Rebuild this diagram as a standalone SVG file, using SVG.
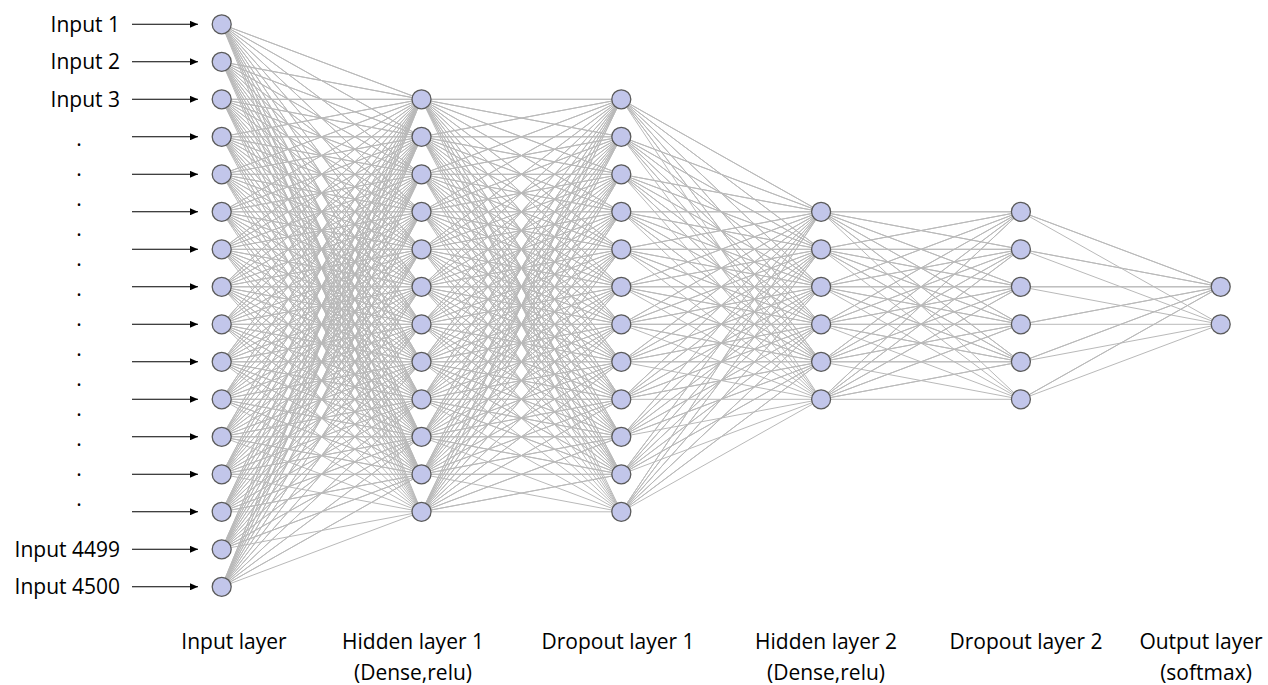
<svg xmlns="http://www.w3.org/2000/svg" width="1268" height="685" viewBox="0 0 1268 685">
<style>
.n{fill:#c2c6ea;stroke:#5a5a5a;stroke-width:1.3}
.w{fill:none;stroke:#b9b9b9;stroke-width:1;stroke-linejoin:round;vector-effect:non-scaling-stroke}
.a{stroke:#000;stroke-width:1.1;marker-end:url(#ah)}
.t{font-family:"Open Sans","Liberation Sans",sans-serif;font-size:21px;fill:#000}
</style>
<defs>
<marker id="ah" viewBox="0 0 8 7" refX="8" refY="3.5" markerWidth="8" markerHeight="7" markerUnits="userSpaceOnUse" orient="auto">
<path d="M0 0L8 3.5L0 7z" fill="#000"/>
</marker>
</defs>
<g id="connectors">
<g transform="translate(221.7 24.3) scale(199.8 37.5)">
<path class="w" d="M0 0L1 2 0 0 1 3 0 0 1 4 0 0 1 5 0 0 1 6 0 0 1 7 0 0 1 8 0 0 1 9 0 0 1 10 0 0 1 11 0 0 1 12 0 0 1 13
M0 1L1 2 0 1 1 3 0 1 1 4 0 1 1 5 0 1 1 6 0 1 1 7 0 1 1 8 0 1 1 9 0 1 1 10 0 1 1 11 0 1 1 12 0 1 1 13
M0 2L1 2 0 2 1 3 0 2 1 4 0 2 1 5 0 2 1 6 0 2 1 7 0 2 1 8 0 2 1 9 0 2 1 10 0 2 1 11 0 2 1 12 0 2 1 13
M0 3L1 2 0 3 1 3 0 3 1 4 0 3 1 5 0 3 1 6 0 3 1 7 0 3 1 8 0 3 1 9 0 3 1 10 0 3 1 11 0 3 1 12 0 3 1 13
M0 4L1 2 0 4 1 3 0 4 1 4 0 4 1 5 0 4 1 6 0 4 1 7 0 4 1 8 0 4 1 9 0 4 1 10 0 4 1 11 0 4 1 12 0 4 1 13
M0 5L1 2 0 5 1 3 0 5 1 4 0 5 1 5 0 5 1 6 0 5 1 7 0 5 1 8 0 5 1 9 0 5 1 10 0 5 1 11 0 5 1 12 0 5 1 13
M0 6L1 2 0 6 1 3 0 6 1 4 0 6 1 5 0 6 1 6 0 6 1 7 0 6 1 8 0 6 1 9 0 6 1 10 0 6 1 11 0 6 1 12 0 6 1 13
M0 7L1 2 0 7 1 3 0 7 1 4 0 7 1 5 0 7 1 6 0 7 1 7 0 7 1 8 0 7 1 9 0 7 1 10 0 7 1 11 0 7 1 12 0 7 1 13
M0 8L1 2 0 8 1 3 0 8 1 4 0 8 1 5 0 8 1 6 0 8 1 7 0 8 1 8 0 8 1 9 0 8 1 10 0 8 1 11 0 8 1 12 0 8 1 13
M0 9L1 2 0 9 1 3 0 9 1 4 0 9 1 5 0 9 1 6 0 9 1 7 0 9 1 8 0 9 1 9 0 9 1 10 0 9 1 11 0 9 1 12 0 9 1 13
M0 10L1 2 0 10 1 3 0 10 1 4 0 10 1 5 0 10 1 6 0 10 1 7 0 10 1 8 0 10 1 9 0 10 1 10 0 10 1 11 0 10 1 12 0 10 1 13
M0 11L1 2 0 11 1 3 0 11 1 4 0 11 1 5 0 11 1 6 0 11 1 7 0 11 1 8 0 11 1 9 0 11 1 10 0 11 1 11 0 11 1 12 0 11 1 13
M0 12L1 2 0 12 1 3 0 12 1 4 0 12 1 5 0 12 1 6 0 12 1 7 0 12 1 8 0 12 1 9 0 12 1 10 0 12 1 11 0 12 1 12 0 12 1 13
M0 13L1 2 0 13 1 3 0 13 1 4 0 13 1 5 0 13 1 6 0 13 1 7 0 13 1 8 0 13 1 9 0 13 1 10 0 13 1 11 0 13 1 12 0 13 1 13
M0 14L1 2 0 14 1 3 0 14 1 4 0 14 1 5 0 14 1 6 0 14 1 7 0 14 1 8 0 14 1 9 0 14 1 10 0 14 1 11 0 14 1 12 0 14 1 13
M0 15L1 2 0 15 1 3 0 15 1 4 0 15 1 5 0 15 1 6 0 15 1 7 0 15 1 8 0 15 1 9 0 15 1 10 0 15 1 11 0 15 1 12 0 15 1 13"/>
<path class="w" d="M1 2L2 2 1 2 2 3 1 2 2 4 1 2 2 5 1 2 2 6 1 2 2 7 1 2 2 8 1 2 2 9 1 2 2 10 1 2 2 11 1 2 2 12 1 2 2 13
M1 3L2 2 1 3 2 3 1 3 2 4 1 3 2 5 1 3 2 6 1 3 2 7 1 3 2 8 1 3 2 9 1 3 2 10 1 3 2 11 1 3 2 12 1 3 2 13
M1 4L2 2 1 4 2 3 1 4 2 4 1 4 2 5 1 4 2 6 1 4 2 7 1 4 2 8 1 4 2 9 1 4 2 10 1 4 2 11 1 4 2 12 1 4 2 13
M1 5L2 2 1 5 2 3 1 5 2 4 1 5 2 5 1 5 2 6 1 5 2 7 1 5 2 8 1 5 2 9 1 5 2 10 1 5 2 11 1 5 2 12 1 5 2 13
M1 6L2 2 1 6 2 3 1 6 2 4 1 6 2 5 1 6 2 6 1 6 2 7 1 6 2 8 1 6 2 9 1 6 2 10 1 6 2 11 1 6 2 12 1 6 2 13
M1 7L2 2 1 7 2 3 1 7 2 4 1 7 2 5 1 7 2 6 1 7 2 7 1 7 2 8 1 7 2 9 1 7 2 10 1 7 2 11 1 7 2 12 1 7 2 13
M1 8L2 2 1 8 2 3 1 8 2 4 1 8 2 5 1 8 2 6 1 8 2 7 1 8 2 8 1 8 2 9 1 8 2 10 1 8 2 11 1 8 2 12 1 8 2 13
M1 9L2 2 1 9 2 3 1 9 2 4 1 9 2 5 1 9 2 6 1 9 2 7 1 9 2 8 1 9 2 9 1 9 2 10 1 9 2 11 1 9 2 12 1 9 2 13
M1 10L2 2 1 10 2 3 1 10 2 4 1 10 2 5 1 10 2 6 1 10 2 7 1 10 2 8 1 10 2 9 1 10 2 10 1 10 2 11 1 10 2 12 1 10 2 13
M1 11L2 2 1 11 2 3 1 11 2 4 1 11 2 5 1 11 2 6 1 11 2 7 1 11 2 8 1 11 2 9 1 11 2 10 1 11 2 11 1 11 2 12 1 11 2 13
M1 12L2 2 1 12 2 3 1 12 2 4 1 12 2 5 1 12 2 6 1 12 2 7 1 12 2 8 1 12 2 9 1 12 2 10 1 12 2 11 1 12 2 12 1 12 2 13
M1 13L2 2 1 13 2 3 1 13 2 4 1 13 2 5 1 13 2 6 1 13 2 7 1 13 2 8 1 13 2 9 1 13 2 10 1 13 2 11 1 13 2 12 1 13 2 13"/>
<path class="w" d="M2 2L3 5 2 2 3 6 2 2 3 7 2 2 3 8 2 2 3 9 2 2 3 10
M2 3L3 5 2 3 3 6 2 3 3 7 2 3 3 8 2 3 3 9 2 3 3 10
M2 4L3 5 2 4 3 6 2 4 3 7 2 4 3 8 2 4 3 9 2 4 3 10
M2 5L3 5 2 5 3 6 2 5 3 7 2 5 3 8 2 5 3 9 2 5 3 10
M2 6L3 5 2 6 3 6 2 6 3 7 2 6 3 8 2 6 3 9 2 6 3 10
M2 7L3 5 2 7 3 6 2 7 3 7 2 7 3 8 2 7 3 9 2 7 3 10
M2 8L3 5 2 8 3 6 2 8 3 7 2 8 3 8 2 8 3 9 2 8 3 10
M2 9L3 5 2 9 3 6 2 9 3 7 2 9 3 8 2 9 3 9 2 9 3 10
M2 10L3 5 2 10 3 6 2 10 3 7 2 10 3 8 2 10 3 9 2 10 3 10
M2 11L3 5 2 11 3 6 2 11 3 7 2 11 3 8 2 11 3 9 2 11 3 10
M2 12L3 5 2 12 3 6 2 12 3 7 2 12 3 8 2 12 3 9 2 12 3 10
M2 13L3 5 2 13 3 6 2 13 3 7 2 13 3 8 2 13 3 9 2 13 3 10"/>
<path class="w" d="M3 5L4 5 3 5 4 6 3 5 4 7 3 5 4 8 3 5 4 9 3 5 4 10
M3 6L4 5 3 6 4 6 3 6 4 7 3 6 4 8 3 6 4 9 3 6 4 10
M3 7L4 5 3 7 4 6 3 7 4 7 3 7 4 8 3 7 4 9 3 7 4 10
M3 8L4 5 3 8 4 6 3 8 4 7 3 8 4 8 3 8 4 9 3 8 4 10
M3 9L4 5 3 9 4 6 3 9 4 7 3 9 4 8 3 9 4 9 3 9 4 10
M3 10L4 5 3 10 4 6 3 10 4 7 3 10 4 8 3 10 4 9 3 10 4 10"/>
<path class="w" d="M4 5L5 7 4 5 5 8M4 6L5 7 4 6 5 8M4 7L5 7 4 7 5 8M4 8L5 7 4 8 5 8M4 9L5 7 4 9 5 8M4 10L5 7 4 10 5 8"/>
</g>
<line class="a" x1="132" y1="24.3" x2="198" y2="24.3"/>
<line class="a" x1="132" y1="61.8" x2="198" y2="61.8"/>
<line class="a" x1="132" y1="99.3" x2="198" y2="99.3"/>
<line class="a" x1="132" y1="136.8" x2="198" y2="136.8"/>
<line class="a" x1="132" y1="174.3" x2="198" y2="174.3"/>
<line class="a" x1="132" y1="211.8" x2="198" y2="211.8"/>
<line class="a" x1="132" y1="249.3" x2="198" y2="249.3"/>
<line class="a" x1="132" y1="286.8" x2="198" y2="286.8"/>
<line class="a" x1="132" y1="324.3" x2="198" y2="324.3"/>
<line class="a" x1="132" y1="361.8" x2="198" y2="361.8"/>
<line class="a" x1="132" y1="399.3" x2="198" y2="399.3"/>
<line class="a" x1="132" y1="436.8" x2="198" y2="436.8"/>
<line class="a" x1="132" y1="474.3" x2="198" y2="474.3"/>
<line class="a" x1="132" y1="511.8" x2="198" y2="511.8"/>
<line class="a" x1="132" y1="549.3" x2="198" y2="549.3"/>
<line class="a" x1="132" y1="586.8" x2="198" y2="586.8"/>
</g>
<g id="input-layer">
<g id="in1"><circle class="n" cx="221.7" cy="24.3" r="9.5"/></g>
<g id="in2"><circle class="n" cx="221.7" cy="61.8" r="9.5"/></g>
<g id="in3"><circle class="n" cx="221.7" cy="99.3" r="9.5"/></g>
<g id="in4"><circle class="n" cx="221.7" cy="136.8" r="9.5"/></g>
<g id="in5"><circle class="n" cx="221.7" cy="174.3" r="9.5"/></g>
<g id="in6"><circle class="n" cx="221.7" cy="211.8" r="9.5"/></g>
<g id="in7"><circle class="n" cx="221.7" cy="249.3" r="9.5"/></g>
<g id="in8"><circle class="n" cx="221.7" cy="286.8" r="9.5"/></g>
<g id="in9"><circle class="n" cx="221.7" cy="324.3" r="9.5"/></g>
<g id="in10"><circle class="n" cx="221.7" cy="361.8" r="9.5"/></g>
<g id="in11"><circle class="n" cx="221.7" cy="399.3" r="9.5"/></g>
<g id="in12"><circle class="n" cx="221.7" cy="436.8" r="9.5"/></g>
<g id="in13"><circle class="n" cx="221.7" cy="474.3" r="9.5"/></g>
<g id="in14"><circle class="n" cx="221.7" cy="511.8" r="9.5"/></g>
<g id="in15"><circle class="n" cx="221.7" cy="549.3" r="9.5"/></g>
<g id="in16"><circle class="n" cx="221.7" cy="586.8" r="9.5"/></g>
</g>
<g id="hidden-layer-1">
<g id="h1_1"><circle class="n" cx="421.5" cy="99.3" r="9.5"/></g>
<g id="h1_2"><circle class="n" cx="421.5" cy="136.8" r="9.5"/></g>
<g id="h1_3"><circle class="n" cx="421.5" cy="174.3" r="9.5"/></g>
<g id="h1_4"><circle class="n" cx="421.5" cy="211.8" r="9.5"/></g>
<g id="h1_5"><circle class="n" cx="421.5" cy="249.3" r="9.5"/></g>
<g id="h1_6"><circle class="n" cx="421.5" cy="286.8" r="9.5"/></g>
<g id="h1_7"><circle class="n" cx="421.5" cy="324.3" r="9.5"/></g>
<g id="h1_8"><circle class="n" cx="421.5" cy="361.8" r="9.5"/></g>
<g id="h1_9"><circle class="n" cx="421.5" cy="399.3" r="9.5"/></g>
<g id="h1_10"><circle class="n" cx="421.5" cy="436.8" r="9.5"/></g>
<g id="h1_11"><circle class="n" cx="421.5" cy="474.3" r="9.5"/></g>
<g id="h1_12"><circle class="n" cx="421.5" cy="511.8" r="9.5"/></g>
</g>
<g id="dropout-layer-1">
<g id="d1_1"><circle class="n" cx="621.3" cy="99.3" r="9.5"/></g>
<g id="d1_2"><circle class="n" cx="621.3" cy="136.8" r="9.5"/></g>
<g id="d1_3"><circle class="n" cx="621.3" cy="174.3" r="9.5"/></g>
<g id="d1_4"><circle class="n" cx="621.3" cy="211.8" r="9.5"/></g>
<g id="d1_5"><circle class="n" cx="621.3" cy="249.3" r="9.5"/></g>
<g id="d1_6"><circle class="n" cx="621.3" cy="286.8" r="9.5"/></g>
<g id="d1_7"><circle class="n" cx="621.3" cy="324.3" r="9.5"/></g>
<g id="d1_8"><circle class="n" cx="621.3" cy="361.8" r="9.5"/></g>
<g id="d1_9"><circle class="n" cx="621.3" cy="399.3" r="9.5"/></g>
<g id="d1_10"><circle class="n" cx="621.3" cy="436.8" r="9.5"/></g>
<g id="d1_11"><circle class="n" cx="621.3" cy="474.3" r="9.5"/></g>
<g id="d1_12"><circle class="n" cx="621.3" cy="511.8" r="9.5"/></g>
</g>
<g id="hidden-layer-2">
<g id="h2_1"><circle class="n" cx="821.1" cy="211.8" r="9.5"/></g>
<g id="h2_2"><circle class="n" cx="821.1" cy="249.3" r="9.5"/></g>
<g id="h2_3"><circle class="n" cx="821.1" cy="286.8" r="9.5"/></g>
<g id="h2_4"><circle class="n" cx="821.1" cy="324.3" r="9.5"/></g>
<g id="h2_5"><circle class="n" cx="821.1" cy="361.8" r="9.5"/></g>
<g id="h2_6"><circle class="n" cx="821.1" cy="399.3" r="9.5"/></g>
</g>
<g id="dropout-layer-2">
<g id="d2_1"><circle class="n" cx="1020.9" cy="211.8" r="9.5"/></g>
<g id="d2_2"><circle class="n" cx="1020.9" cy="249.3" r="9.5"/></g>
<g id="d2_3"><circle class="n" cx="1020.9" cy="286.8" r="9.5"/></g>
<g id="d2_4"><circle class="n" cx="1020.9" cy="324.3" r="9.5"/></g>
<g id="d2_5"><circle class="n" cx="1020.9" cy="361.8" r="9.5"/></g>
<g id="d2_6"><circle class="n" cx="1020.9" cy="399.3" r="9.5"/></g>
</g>
<g id="output-layer">
<g id="out1"><circle class="n" cx="1220.7" cy="286.8" r="9.5"/></g>
<g id="out2"><circle class="n" cx="1220.7" cy="324.3" r="9.5"/></g>
</g>
<g id="input-labels" class="t" text-anchor="end">
<text x="120" y="31.8">Input 1</text>
<text x="120" y="69.3">Input 2</text>
<text x="120" y="106.8">Input 3</text>
<text x="120" y="556.8">Input 4499</text>
<text x="120" y="594.3">Input 4500</text>
</g>
<g id="dots" class="t" text-anchor="middle">
<text x="79" y="146">.</text>
<text x="79" y="176">.</text>
<text x="79" y="206">.</text>
<text x="79" y="236">.</text>
<text x="79" y="266">.</text>
<text x="79" y="296">.</text>
<text x="79" y="326">.</text>
<text x="79" y="356">.</text>
<text x="79" y="386">.</text>
<text x="79" y="416">.</text>
<text x="79" y="446">.</text>
<text x="79" y="476">.</text>
<text x="79" y="506">.</text>
</g>
<g id="layer-labels" class="t" text-anchor="middle">
<text x="234" y="649">Input layer</text>
<text x="413" y="649">Hidden layer 1</text>
<text x="413" y="680">(Dense,relu)</text>
<text x="618" y="649">Dropout layer 1</text>
<text x="826" y="649">Hidden layer 2</text>
<text x="826" y="680">(Dense,relu)</text>
<text x="1026" y="649">Dropout layer 2</text>
<text x="1201" y="649">Output layer</text>
<text x="1206" y="680">(softmax)</text>
</g>
</svg>
